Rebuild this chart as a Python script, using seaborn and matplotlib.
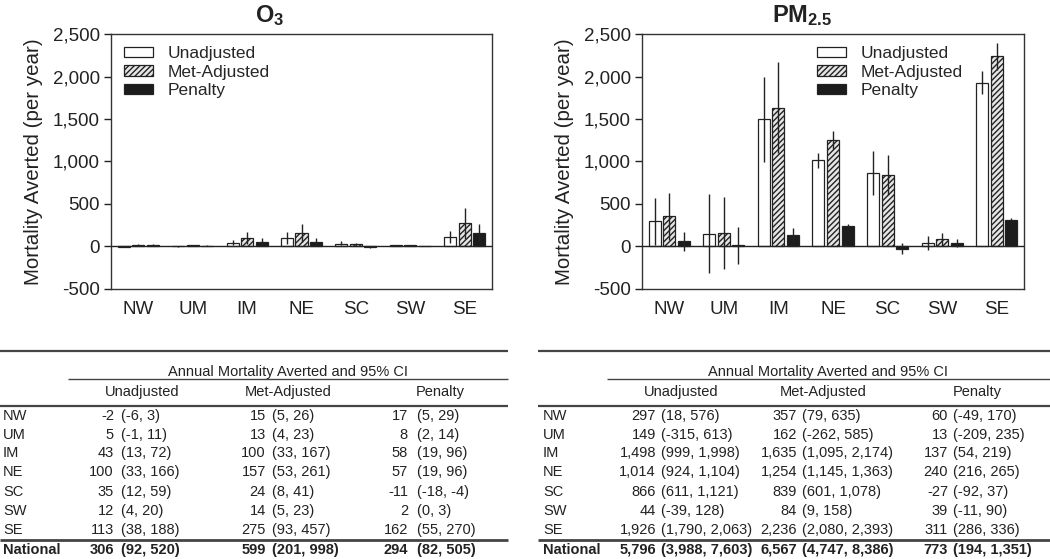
"""Mortality averted by region: O3 and PM2.5 bar charts with summary tables."""

import matplotlib
matplotlib.use("Agg")
import matplotlib.pyplot as plt
import numpy as np
import pandas as pd
import seaborn as sns
from matplotlib.ticker import FuncFormatter

REGIONS = ["NW", "UM", "IM", "NE", "SC", "SW", "SE"]
SCENARIOS = ["Unadjusted", "Met-Adjusted", "Penalty"]

# O3 (estimate, lower, upper)
o3_unadj = [-2, 5, 43, 100, 35, 12, 113]
o3_unadj_lo = [-6, -1, 13, 33, 12, 4, 38]
o3_unadj_hi = [3, 11, 72, 166, 59, 20, 188]
o3_met = [15, 13, 100, 157, 24, 14, 275]
o3_met_lo = [5, 4, 33, 53, 8, 5, 93]
o3_met_hi = [26, 23, 167, 261, 41, 23, 457]
o3_pen = [17, 8, 58, 57, -11, 2, 162]
o3_pen_lo = [5, 2, 19, 19, -18, 0, 55]
o3_pen_hi = [29, 14, 96, 96, -4, 3, 270]
o3_national = [(306, 92, 520), (599, 201, 998), (294, 82, 505)]

# PM2.5 (estimate, lower, upper)
pm_unadj = [297, 149, 1498, 1014, 866, 44, 1926]
pm_unadj_lo = [18, -315, 999, 924, 611, -39, 1790]
pm_unadj_hi = [576, 613, 1998, 1104, 1121, 128, 2063]
pm_met = [357, 162, 1635, 1254, 839, 84, 2236]
pm_met_lo = [79, -262, 1095, 1145, 601, 9, 2080]
pm_met_hi = [635, 585, 2174, 1363, 1078, 158, 2393]
pm_pen = [60, 13, 137, 240, -27, 39, 311]
pm_pen_lo = [-49, -209, 54, 216, -92, -11, 286]
pm_pen_hi = [170, 235, 219, 265, 37, 90, 336]
pm_national = [(5796, 3988, 7603), (6567, 4747, 8386), (773, 194, 1351)]

FACE = {"Unadjusted": "white", "Met-Adjusted": "#e6e6e6", "Penalty": "#1c1c1c"}
HATCH = {"Unadjusted": None, "Met-Adjusted": "//////", "Penalty": None}

sns.set_theme(style="ticks")
plt.rcParams.update(
    {
        "font.family": ["Liberation Sans", "DejaVu Sans"],
        "mathtext.fontset": "custom",
        "mathtext.rm": "Liberation Sans",
        "mathtext.bf": "Liberation Sans:bold",
        "hatch.linewidth": 1.0,
        "axes.edgecolor": "#333333",
        "axes.linewidth": 1.0,
    }
)

W, H = 1050, 559


def build_frame(unadj, met, pen):
    rows = []
    for name, vals in zip(SCENARIOS, [unadj, met, pen]):
        for reg, v in zip(REGIONS, vals):
            rows.append({"region": reg, "scenario": name, "value": v})
    return pd.DataFrame(rows)


def draw_bars(ax, unadj, met, pen, lows, highs, legend_anchor):
    df = build_frame(unadj, met, pen)
    sns.barplot(
        data=df, x="region", y="value", hue="scenario", order=REGIONS,
        hue_order=SCENARIOS, errorbar=None, width=0.8, gap=0.17,
        legend=False, ax=ax,
    )
    for cont, name, lo, hi in zip(ax.containers, SCENARIOS, lows, highs):
        for patch in cont:
            patch.set_facecolor(FACE[name])
            patch.set_edgecolor("#222222")
            patch.set_linewidth(0.9)
            if HATCH[name]:
                patch.set_hatch(HATCH[name])
        xs = [p.get_x() + p.get_width() / 2 for p in cont]
        ax.vlines(xs, lo, hi, color="#222222", lw=1.0, zorder=5)
    ax.axhline(0, color="#222222", lw=1.0, zorder=4)
    ax.set_ylim(-500, 2500)
    ax.set_xlim(-0.5, 6.5)
    ax.set_yticks(np.arange(-500, 2501, 500))
    ax.yaxis.set_major_formatter(FuncFormatter(lambda v, _: f"{int(v):,}"))
    ax.tick_params(axis="y", direction="out", length=5, width=1, pad=3,
                   labelsize=13.5, colors="#222222")
    ax.tick_params(axis="x", length=0, pad=9, labelsize=13.5, colors="#222222")
    ax.set_xlabel("")
    ax.set_ylabel("Mortality Averted (per year)", fontsize=14.8, labelpad=7,
                  color="#222222")
    for s in ax.spines.values():
        s.set_visible(True)
    ax.legend(
        ax.containers, SCENARIOS, loc="upper left", bbox_to_anchor=legend_anchor,
        frameon=False, fontsize=12.5, handlelength=1.65, handleheight=0.55,
        labelspacing=0.2, handletextpad=0.85, borderaxespad=0.0,
    )


fig = plt.figure(figsize=(W / 100, H / 100), dpi=100)

ax1 = fig.add_axes([111 / W, 1 - 289 / H, 381 / W, 255 / H])
draw_bars(
    ax1, o3_unadj, o3_met, o3_pen,
    [o3_unadj_lo, o3_met_lo, o3_pen_lo], [o3_unadj_hi, o3_met_hi, o3_pen_hi],
    (0.016, 0.98),
)
ax2 = fig.add_axes([642 / W, 1 - 289 / H, 382 / W, 255 / H])
draw_bars(
    ax2, pm_unadj, pm_met, pm_pen,
    [pm_unadj_lo, pm_met_lo, pm_pen_lo], [pm_unadj_hi, pm_met_hi, pm_pen_hi],
    (0.44, 0.98),
)

fig.text(270 / W, 1 - 16 / H, r"$\mathbf{O_3}$", ha="center", va="center",
         fontsize=17, color="#222222")
fig.text(802 / W, 1 - 16 / H, r"$\mathbf{PM_{2.5}}$", ha="center", va="center",
         fontsize=17, color="#222222")

# tables, drawn in pixel coordinates on an overlay
tab = fig.add_axes([0, 0, 1, 1])
tab.set_xlim(0, W)
tab.set_ylim(H, 0)
tab.axis("off")
tab.patch.set_alpha(0)

ROW_Y = [416, 435, 453, 472, 492, 511, 530]
NAT_Y = 550
FS = 10.5
TXT = "#222222"


def fmt_ci(lo, hi):
    return f"({lo:,}, {hi:,})"


def draw_table(x0, x1, sub_x0, label_x, val_x, ci_x, head_x, est, lo, hi, national):
    tab.hlines(351, x0, x1, color="#444444", lw=1.6)
    tab.text((sub_x0 + x1) / 2, 372, "Annual Mortality Averted and 95% CI",
             ha="center", va="center", fontsize=FS, color=TXT)
    tab.hlines(379, sub_x0, x1, color="#444444", lw=1.0)
    for name, hx in zip(SCENARIOS, head_x):
        tab.text(hx, 392, name, ha="center", va="center", fontsize=FS,
                 color=TXT)
    tab.hlines(406, x0, x1, color="#444444", lw=1.6)
    for i, reg in enumerate(REGIONS):
        y = ROW_Y[i]
        tab.text(label_x, y, reg, ha="left", va="center", fontsize=FS,
                 color=TXT)
        for k in range(3):
            tab.text(val_x[k], y, f"{est[k][i]:,}", ha="right", va="center",
                     fontsize=FS, color=TXT)
            tab.text(ci_x[k], y, fmt_ci(lo[k][i], hi[k][i]), ha="left",
                     va="center", fontsize=FS, color=TXT)
    tab.hlines(540, x0, x1, color="#444444", lw=2.0)
    tab.text(label_x, NAT_Y, "National", ha="left", va="center", fontsize=FS,
             fontweight="bold", color=TXT)
    for k, (e, l, h) in enumerate(national):
        tab.text(val_x[k], NAT_Y, f"{e:,}", ha="right", va="center", fontsize=FS,
                 fontweight="bold", color=TXT)
        tab.text(ci_x[k], NAT_Y, fmt_ci(l, h), ha="left", va="center",
                 fontsize=FS, fontweight="bold", color=TXT)


draw_table(
    0, 508, 68, 3, [114, 266, 408], [121, 272, 417], [142, 288, 440],
    [o3_unadj, o3_met, o3_pen],
    [o3_unadj_lo, o3_met_lo, o3_pen_lo],
    [o3_unadj_hi, o3_met_hi, o3_pen_hi],
    o3_national,
)
draw_table(
    538, 1050, 607, 543, [656, 797, 948], [661, 802, 953], [681, 823, 977],
    [pm_unadj, pm_met, pm_pen],
    [pm_unadj_lo, pm_met_lo, pm_pen_lo],
    [pm_unadj_hi, pm_met_hi, pm_pen_hi],
    pm_national,
)

fig.savefig("out.png", dpi=100, facecolor="white")
